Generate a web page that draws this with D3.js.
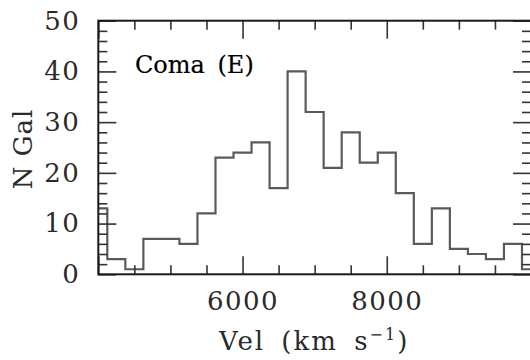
<!DOCTYPE html>
<html>
<head>
<meta charset="utf-8">
<script src="https://cdn.jsdelivr.net/npm/d3@7"></script>
<style>
  html, body { margin: 0; padding: 0; background: #fff; }
  svg { display: block; }
  text { font-family: "DejaVu Serif", serif; fill: #2a2a2a; }
</style>
</head>
<body>
<script>
// ---- data ----
const binEdges = [3875, 4125, 4375, 4625, 4875, 5125, 5375, 5625, 5875, 6125, 6375, 6625, 6875,
                  7125, 7375, 7625, 7875, 8125, 8375, 8625, 8875, 9125, 9375, 9625, 9875, 10125];
const counts   = [13, 3, 1, 7, 7, 6, 12, 23, 24, 26, 17, 40, 32, 21, 28, 22, 24, 16, 6, 13, 5, 4, 3, 6, 1];
const xMajorTicks = [4000, 6000, 8000, 10000];
const xMinorTicks = [4500, 5000, 5500, 6500, 7000, 7500, 8500, 9000, 9500];
const xTickLabels = [6000, 8000];
const yMajorTicks = [0, 10, 20, 30, 40, 50];
const yMinorTicks = [2, 4, 6, 8, 12, 14, 16, 18, 22, 24, 26, 28, 32, 34, 36, 38, 42, 44, 46, 48];
const xDomain = [4000, 10000];
const yDomain = [0, 50];
const labelText = "Coma (E)";

// ---- layout ----
const W = 530, H = 360;
const pL = 98.3, pR = 531, pT = 20.7, pB = 274.3;
const majorLen = 18, minorLen = 9;

const svg = d3.select("body").append("svg").attr("width", W).attr("height", H);

const x = d3.scaleLinear().domain(xDomain).range([pL, pR]);
const y = d3.scaleLinear().domain(yDomain).range([pB, pT]);

svg.append("clipPath").attr("id", "plotclip")
  .append("rect").attr("x", pL).attr("y", pT - 2).attr("width", pR - pL).attr("height", pB - pT + 4);

// histogram step line
const pts = counts.map((c, i) => [binEdges[i], c]);
pts.push([binEdges[binEdges.length - 1], counts[counts.length - 1]]);
const line = d3.line().x(d => x(d[0])).y(d => y(d[1])).curve(d3.curveStepAfter);
svg.append("path").datum(pts)
  .attr("clip-path", "url(#plotclip)")
  .attr("d", line)
  .attr("fill", "none").attr("stroke", "#5a5a5a").attr("stroke-width", 2.2);

// axes with inward ticks
function styleAxis(g) {
  g.select(".domain").remove();
  g.selectAll(".tick line").attr("stroke", "#333").attr("stroke-width", 1.6);
  g.selectAll("text").style("font-size", "26px").style("font-family", "DejaVu Serif, serif")
    .style("letter-spacing", "1.5px").attr("fill", "#2a2a2a");
}
function addAxis(axisFn, scale, ticks, size, transform, withLabels, labelVals, pad) {
  const ax = axisFn(scale).tickValues(ticks).tickSize(size).tickPadding(pad || 0)
    .tickFormat(d => (withLabels && labelVals.includes(d)) ? d3.format("d")(d) : "");
  const g = svg.append("g").attr("transform", transform).call(ax);
  styleAxis(g);
  return g;
}
// bottom
addAxis(d3.axisBottom, x, xMajorTicks, -majorLen, `translate(0,${pB})`, true, xTickLabels, 17);
addAxis(d3.axisBottom, x, xMinorTicks, -minorLen, `translate(0,${pB})`, false, []);
// top
addAxis(d3.axisTop, x, xMajorTicks, -majorLen, `translate(0,${pT})`, false, []);
addAxis(d3.axisTop, x, xMinorTicks, -minorLen, `translate(0,${pT})`, false, []);
// left
addAxis(d3.axisLeft, y, yMajorTicks, -majorLen, `translate(${pL},0)`, true, yMajorTicks, 18);
addAxis(d3.axisLeft, y, yMinorTicks, -minorLen, `translate(${pL},0)`, false, []);
// right
addAxis(d3.axisRight, y, yMajorTicks, -majorLen, `translate(${pR},0)`, false, []);
addAxis(d3.axisRight, y, yMinorTicks, -minorLen, `translate(${pR},0)`, false, []);

// frame
svg.append("rect").attr("x", pL).attr("y", pT).attr("width", pR - pL).attr("height", pB - pT)
  .attr("fill", "none").attr("stroke", "#1a1a1a").attr("stroke-width", 2);

// labels
svg.append("text").attr("x", 135).attr("y", 73)
  .style("font-size", "24px").style("fill", "#000").style("word-spacing", "5px")
  .attr("stroke", "#000").attr("stroke-width", 0.2).text(labelText);

const xl = svg.append("text").attr("x", (pL + 530) / 2).attr("y", 350)
  .attr("text-anchor", "middle").style("font-size", "26px")
  .style("letter-spacing", "2px").style("word-spacing", "6px");
xl.append("tspan").text("Vel (km s");
xl.append("tspan").attr("dy", -10).style("font-size", "16px").text("−1");
xl.append("tspan").attr("dy", 10).text(")");

svg.append("text").attr("transform", "translate(31.5,149) rotate(-90)")
  .attr("text-anchor", "middle").style("font-size", "26px").style("letter-spacing", "1px").text("N Gal");
</script>
</body>
</html>
